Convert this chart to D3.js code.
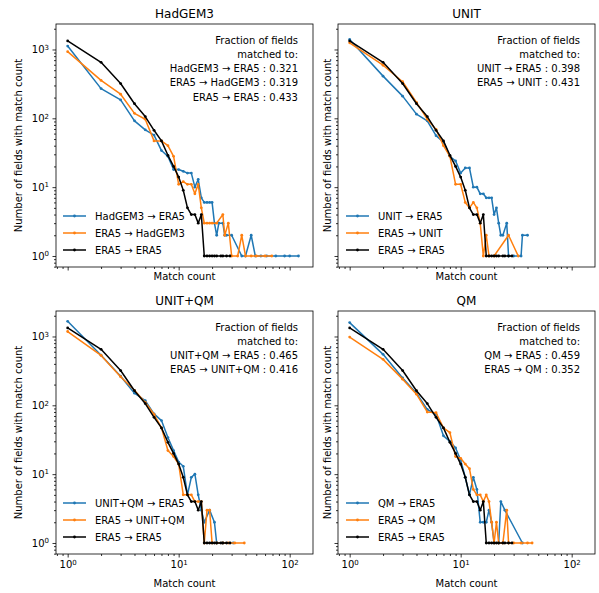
<!DOCTYPE html>
<html>
<head>
<meta charset="utf-8">
<script src="https://cdn.jsdelivr.net/npm/d3@7"></script>
<style>
  body { margin:0; background:#ffffff; }
  text { font-family: "DejaVu Sans", sans-serif; fill:#000000; }
</style>
</head>
<body>
<div id="fig"></div>
<script>
// panel titles + tick labels
var titles = ['HadGEM3', 'UNIT', 'UNIT+QM', 'QM'];
var xMajor = [1, 10, 100];
var yMajor = [1, 10, 100, 1000];

// [match count, number of fields]
var era5ToEra5 = [[1,1330],[2,650],[3,320],[4,163],[5,106],[6,67],[7,47],[8,29],[9,20],[10,14],[11,9],[12,5],[13,4],[14,4],[15,3],[16,4],[17,1],[18,1],[19,1],[20,1],[21,1],[22,1],[24,1],[25,1],[27,1],[29,1]];

var hadgemToEra5 = [[1,1120],[2,270],[3,185],[4,92],[5,68],[6,57],[7,34],[8,28],[9,18],[10,18],[11,17],[12,16],[13,16],[14,10],[15,13],[16,7],[17,6],[18,6],[19,6],[20,6],[21,3],[22,2],[23,3],[25,3],[26,2],[27,2],[30,2],[37,1],[40,1],[45,2],[49,1],[55,1],[62,1],[75,1],[90,1],[100,1],[120,1]];
var era5ToHadgem = [[1,930],[2,355],[3,224],[4,118],[5,97],[6,47],[7,47],[8,40],[9,28],[10,11],[11,12],[12,11],[13,11],[14,8],[15,11],[16,5],[17,3],[18,3],[19,3],[20,3],[22,3],[25,4],[26,2],[28,3],[30,1],[34,1],[37,2],[40,1],[45,1],[50,1],[60,1],[69,1]];

var unitToEra5 = [[1,1400],[2,410],[3,210],[4,115],[5,92],[6,56],[7,45],[8,28],[9,24],[10,16],[11,19],[12,19],[13,10],[14,10],[15,8],[16,8],[17,7],[18,7],[19,7],[20,4],[21,5],[22,3],[23,2],[24,2],[26,3],[27,1],[30,1],[35,1],[36,2],[40,2]];
var era5ToUnit = [[1,1250],[2,590],[3,340],[4,170],[5,97],[6,69],[7,40],[8,28],[9,11],[10,11],[11,6],[12,5],[13,6],[14,5],[15,3],[16,1],[17,2],[18,1],[20,1],[27,2],[33,1]];

var unitQmToEra5 = [[1,1660],[2,535],[3,265],[4,150],[5,117],[6,75],[7,60],[8,34],[9,22],[10,15],[11,13],[12,5],[13,9],[14,10],[15,5],[16,3],[17,2],[19,3],[21,2],[22,1],[25,1],[31,1]];
var era5ToUnitQm = [[1,1180],[2,530],[3,260],[4,165],[5,110],[6,74],[7,47],[8,22],[9,18],[10,14],[11,5],[12,5],[13,5],[14,4],[15,4],[16,4],[17,1],[18,3],[19,3],[20,1],[22,1],[25,1],[28,1],[32,1],[39,1]];

var qmToEra5 = [[1,1590],[2,550],[3,250],[4,150],[5,87],[6,74],[7,36],[8,30],[9,24],[10,16],[11,9],[12,5],[13,9],[14,6],[15,2],[16,2],[17,2],[18,3],[19,2],[20,1],[22,1],[23,4],[25,3],[36,1]];
var era5ToQm = [[1,980],[2,465],[3,240],[4,145],[5,80],[6,78],[7,47],[8,40],[9,18],[10,17],[11,14],[12,12],[13,6],[14,5],[15,5],[16,4],[17,5],[18,4],[19,2],[20,1],[21,2],[22,1],[24,1],[26,3],[27,1],[30,1],[35,1],[40,1],[44,1]];

// fraction of fields matched, one list per panel
var fracHadgem = [0.321, 0.319, 0.433];
var fracUnit = [0.398, 0.431];
var fracUnitQm = [0.465, 0.416];
var fracQm = [0.459, 0.352];

var arrow = ' \u2192 ';
var blue = '#1f77b4', orange = '#ff7f0e', black = '#000000';

var W = 599, H = 593;
var pw = 257, ph = 243;
var xDomain = [Math.pow(10, -0.105), Math.pow(10, 2.21)];
var yDomain = [Math.pow(10, -0.16), Math.pow(10, 3.37)];

var panels = [
  {title: titles[0], a: 'HadGEM3', to: hadgemToEra5, from: era5ToHadgem, frac: fracHadgem, left: 56, top: 24, yLab: true, xLab: false},
  {title: titles[1], a: 'UNIT', to: unitToEra5, from: era5ToUnit, frac: fracUnit, left: 338, top: 24, yLab: false, xLab: false},
  {title: titles[2], a: 'UNIT+QM', to: unitQmToEra5, from: era5ToUnitQm, frac: fracUnitQm, left: 56, top: 311, yLab: true, xLab: true},
  {title: titles[3], a: 'QM', to: qmToEra5, from: era5ToQm, frac: fracQm, left: 338, top: 311, yLab: false, xLab: true}
];

var svg = d3.select('#fig').append('svg')
    .attr('width', W).attr('height', H)
    .style('background', '#ffffff');

// minor ticks on a log axis (2..9 per decade) inside the domain
function minorTicks(dom) {
  var out = [];
  for (var e = -2; e <= 4; e++) {
    for (var k = 2; k <= 9; k++) {
      var v = k * Math.pow(10, e);
      if (v >= dom[0] && v <= dom[1]) out.push(v);
    }
  }
  return out;
}

function supLabels(sel) {
  sel.selectAll('.tick text').each(function(d) {
    var t = d3.select(this);
    t.text('10');
    t.append('tspan').attr('dy', '-0.5em').attr('font-size', '7px')
      .text(Math.round(Math.log10(d)));
  });
}

function styleAxis(sel) {
  sel.attr('font-family', '"DejaVu Sans", sans-serif').attr('font-size', 10);
  sel.select('.domain').remove();
  sel.selectAll('.tick line').attr('stroke', '#000').attr('stroke-width', 0.8);
}

function drawPanel(p) {
  var g = svg.append('g').attr('transform', 'translate(' + p.left + ',' + p.top + ')');
  var x = d3.scaleLog().domain(xDomain).range([0, pw]);
  var y = d3.scaleLog().domain(yDomain).range([ph, 0]);

  // x ticks
  var gxm = g.append('g').attr('transform', 'translate(0,' + ph + ')')
    .call(d3.axisBottom(x).tickValues(minorTicks(xDomain)).tickSize(2).tickSizeOuter(0).tickFormat(''));
  styleAxis(gxm);
  var gx = g.append('g').attr('transform', 'translate(0,' + ph + ')')
    .call(d3.axisBottom(x).tickValues(xMajor).tickSize(3.5).tickSizeOuter(0).tickPadding(3.5));
  styleAxis(gx);
  if (p.xLab) supLabels(gx); else gx.selectAll('.tick text').remove();

  // y ticks
  var gym = g.append('g')
    .call(d3.axisLeft(y).tickValues(minorTicks(yDomain)).tickSize(2).tickSizeOuter(0).tickFormat(''));
  styleAxis(gym);
  var gy = g.append('g')
    .call(d3.axisLeft(y).tickValues(yMajor).tickSize(3.5).tickSizeOuter(0).tickPadding(3.5));
  styleAxis(gy);
  if (p.yLab) supLabels(gy); else gy.selectAll('.tick text').remove();

  var line = d3.line().x(function(d) { return x(d[0]); }).y(function(d) { return y(d[1]); });

  var series = [
    {data: p.to, color: blue, label: p.a + arrow + 'ERA5'},
    {data: p.from, color: orange, label: 'ERA5' + arrow + p.a},
    {data: era5ToEra5, color: black, label: 'ERA5' + arrow + 'ERA5'}
  ];

  series.forEach(function(s) {
    g.append('path').datum(s.data)
      .attr('d', line)
      .attr('fill', 'none')
      .attr('stroke', s.color)
      .attr('stroke-width', 1.5)
      .attr('stroke-linejoin', 'round');
    g.selectAll(null).data(s.data).enter().append('circle')
      .attr('cx', function(d) { return x(d[0]); })
      .attr('cy', function(d) { return y(d[1]); })
      .attr('r', 1.4)
      .attr('fill', s.color);
  });

  // frame
  g.append('rect').attr('width', pw).attr('height', ph)
    .attr('fill', 'none').attr('stroke', '#000').attr('stroke-width', 0.8);

  // title
  g.append('text').attr('x', pw / 2).attr('y', -6)
    .attr('text-anchor', 'middle').attr('font-size', 12).text(p.title);

  // axis labels
  g.append('text').attr('x', pw / 2).attr('y', p.xLab ? ph + 33 : ph + 13)
    .attr('text-anchor', 'middle').attr('font-size', 10).text('Match count');
  var ylx = p.yLab ? -38 : -11;
  g.append('text')
    .attr('transform', 'translate(' + ylx + ',' + (ph / 2) + ') rotate(-90)')
    .attr('dy', '0.35em')
    .attr('text-anchor', 'middle').attr('font-size', 10)
    .text('Number of fields with match count');

  // legend, lower left
  var lx = p.left > 100 ? 8 : 7;
  series.forEach(function(s, i) {
    var ly = 192 + i * 17;
    g.append('line').attr('x1', lx).attr('x2', lx + 23).attr('y1', ly).attr('y2', ly)
      .attr('stroke', s.color).attr('stroke-width', 1.5);
    g.append('circle').attr('cx', lx + 11.5).attr('cy', ly).attr('r', 1.4).attr('fill', s.color);
    g.append('text').attr('x', lx + 32).attr('y', ly).attr('dy', '0.35em')
      .attr('font-size', 10).text(s.label);
  });

  // fraction annotation, upper right
  var lines = ['Fraction of fields', 'matched to:'];
  lines.push(p.a + arrow + 'ERA5 : ' + p.frac[0].toFixed(3));
  lines.push('ERA5' + arrow + p.a + ' : ' + p.frac[1].toFixed(3));
  if (p.frac.length > 2) lines.push('ERA5' + arrow + 'ERA5 : ' + p.frac[2].toFixed(3));
  var base = [20, 33.5, 47.5, 62, 76.5];
  lines.forEach(function(t, i) {
    g.append('text').attr('x', pw - 15).attr('y', base[i])
      .attr('text-anchor', 'end').attr('font-size', 10).text(t);
  });
}

panels.forEach(drawPanel);
</script>
</body>
</html>
